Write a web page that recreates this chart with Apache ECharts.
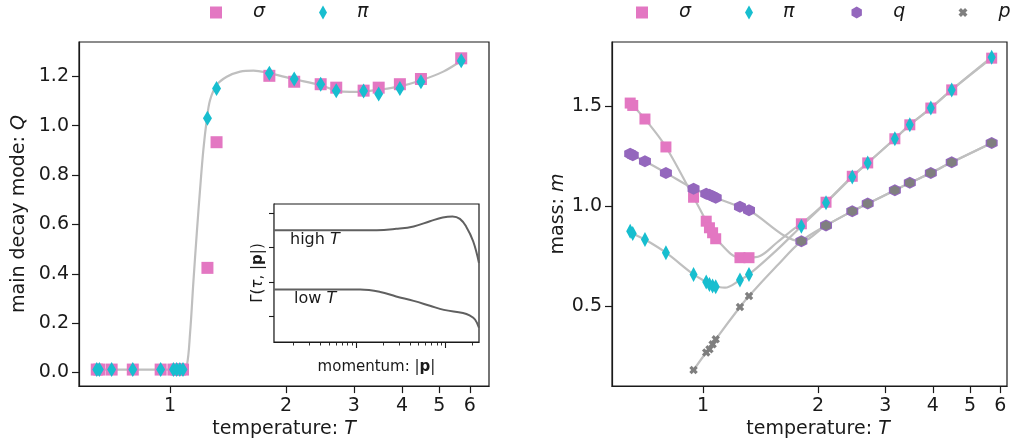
<!DOCTYPE html>
<html>
<head>
<meta charset="utf-8">
<script src="https://cdn.jsdelivr.net/npm/echarts@6/dist/echarts.min.js"></script>
<style>html,body{margin:0;padding:0;background:#fff}#c{width:1016px;height:444px}</style>
</head>
<body>
<div id="c"></div>
<script>
// ---------- data ----------
const temps = [0.645,0.655,0.705,0.80,0.945,1.02,1.04,1.06,1.08,1.25,1.32,1.81,2.10,2.46,2.70,3.18,3.48,3.95,4.48,5.70];
const tickTemps = [1,2,3,4,5,6];
const qTicks = [0,0.2,0.4,0.6,0.8,1.0,1.2];
const mTicks = [0.5,1.0,1.5];

// left panel: main decay mode Q
const qSigma = [0.012,0.012,0.012,0.012,0.012,0.012,0.012,0.012,0.012,0.424,0.933,1.202,1.178,1.168,1.154,1.142,1.154,1.168,1.189,1.273];
const qPi    = [0.012,0.012,0.012,0.012,0.012,0.012,0.012,0.012,0.012,1.030,1.151,1.212,1.189,1.168,1.142,1.141,1.128,1.151,1.178,1.263];
const qCurveT = [0.645,0.80,1.0,1.08,1.105,1.127,1.149,1.173,1.196,1.22,1.245,1.27,1.322,1.403,1.52,1.646,1.783,2.09,2.45,2.71,2.93,3.16,3.46,3.92,4.45,5.12,5.70];
const qCurve  = [0.012,0.012,0.012,0.013,0.027,0.162,0.364,0.566,0.741,0.903,1.023,1.104,1.165,1.198,1.219,1.223,1.215,1.189,1.165,1.142,1.137,1.138,1.145,1.158,1.182,1.219,1.263];

// right panel: mass m
const mSigma = [1.517,1.505,1.437,1.297,1.045,0.925,0.892,0.867,0.837,0.742,0.742,0.912,1.020,1.150,1.217,1.338,1.408,1.492,1.583,1.742];
const mPi    = [0.875,0.863,0.833,0.767,0.658,0.620,0.608,0.600,0.597,0.630,0.658,0.900,1.017,1.147,1.217,1.338,1.408,1.492,1.583,1.747];
const mQ     = [1.263,1.255,1.225,1.167,1.088,1.063,1.057,1.050,1.042,0.997,0.980,0.825,0.903,0.975,1.013,1.080,1.117,1.167,1.220,1.317];
const mP     = [null,null,null,null,0.179,0.267,0.283,0.308,0.333,0.495,0.550,0.825,0.903,0.975,1.013,1.080,1.117,1.167,1.220,1.317];

// fitted curves (right panel)
const sigCurveT = [0.645,0.655,0.705,0.80,0.945,1.02,1.04,1.06,1.08,1.25,1.32,1.41,1.56,1.72,1.81,2.10,2.46,2.70,3.18,3.48,3.95,4.48,5.70];
const sigCurve  = [1.517,1.505,1.437,1.297,1.045,0.925,0.892,0.867,0.837,0.742,0.742,0.750,0.817,0.883,0.912,1.020,1.150,1.217,1.338,1.408,1.492,1.583,1.742];
const piCurveT  = [0.645,0.655,0.705,0.80,0.945,1.02,1.04,1.06,1.08,1.142,1.25,1.32,1.56,1.81,2.10,2.46,2.70,3.18,3.48,3.95,4.48,5.70];
const piCurve   = [0.875,0.863,0.833,0.767,0.658,0.620,0.608,0.600,0.597,0.592,0.630,0.658,0.780,0.900,1.017,1.147,1.217,1.338,1.408,1.492,1.583,1.747];
const pCurveT   = [0.945,1.02,1.04,1.06,1.08,1.25,1.32,1.56,1.81,2.10,2.46,2.70,3.18,3.48,3.95,4.48,5.70];
const pCurve    = [0.179,0.267,0.283,0.308,0.333,0.495,0.550,0.700,0.825,0.903,0.975,1.013,1.080,1.117,1.167,1.220,1.317];

// inset: Gamma(tau,|p|) vs momentum
const insetHighP = [0.12,1.7,2.8,4.4,6.7,9.3,12,14.5,17,20.4,23.7];
const insetHigh  = [3.50,3.50,3.54,3.61,3.76,3.87,3.90,3.83,3.61,3.18,2.55];
const insetLowP  = [0.12,1.11,1.86,2.8,4.4,6.7,9.6,15.7,18.6,21.4,23.7];
const insetLow   = [1.777,1.777,1.71,1.58,1.45,1.31,1.19,1.10,1.03,0.91,0.67];
const insetYTicks = [1,2,3,4];
const insetMajor = [1,10];
const insetMinor = [0.2,0.3,0.4,0.5,0.6,0.7,0.8,0.9,2,3,4,5,6,7,8,9,20];

// ---------- styling ----------
const C = {sigma:'#e377c2', pi:'#17becf', q:'#9467bd', p:'#7f7f7f', curve:'#bfbfbf', inset:'#606060', ink:'#1a1a1a'};
const FF = 'DejaVu Sans';
const FS = 19;
const HEX = 'path://M0,-1L0.866,-0.5L0.866,0.5L0,1L-0.866,0.5L-0.866,-0.5Z';
const XMK = 'path://M-1,-0.45L-0.45,-1L0,-0.55L0.45,-1L1,-0.45L0.55,0L1,0.45L0.45,1L0,0.55L-0.45,1L-1,0.45L-0.55,0Z';
const L = Math.log10;

const pts = (xs, ys) => xs.map((t,i) => ys[i] == null ? null : [L(t), ys[i]]).filter(d => d);

const tickStyle = {show:true, inside:false, length:7, lineStyle:{color:C.ink, width:1.2}};
const lineAx = {show:true, onZero:false, lineStyle:{color:C.ink, width:1.2}};

function xMain(grid, min, max, padLeft) {
  return {
    type:'value', gridIndex:grid, min:min, max:max, position:'bottom',
    axisLine: lineAx,
    axisTick: Object.assign({}, tickStyle, {customValues: tickTemps.map(L)}),
    axisLabel: {customValues: tickTemps.map(L), formatter: v => String(Math.round(Math.pow(10, v))),
                fontSize: FS, color: C.ink, fontFamily: FF, margin: 10},
    splitLine: {show:false},
    name: '{n|temperature: }{i|T}', nameLocation:'middle', nameGap: 33,
    nameTextStyle: {padding:[0,0,0,padLeft||0], rich:{n:{fontSize:FS, fontFamily:FF, color:C.ink}, i:{fontSize:FS, fontFamily:FF, fontStyle:'italic', color:C.ink}}}
  };
}
function yMain(grid, min, max, ticks, nm, it, gap) {
  return {
    type:'value', gridIndex:grid, min:min, max:max,
    axisLine: lineAx,
    axisTick: Object.assign({}, tickStyle, {customValues: ticks}),
    axisLabel: {customValues: ticks, formatter: v => v.toFixed(1), fontSize: FS, color: C.ink, fontFamily: FF, margin: 10},
    splitLine: {show:false},
    name: '{n|' + nm + '}{i|' + it + '}', nameLocation:'middle', nameGap: gap,
    nameTextStyle: {rich:{n:{fontSize:FS, fontFamily:FF, color:C.ink}, i:{fontSize:FS, fontFamily:FF, fontStyle:'italic', color:C.ink}}}
  };
}

function legendItem(name, icon, w, h, left, pad) {
  return {
    data:[{name:name, icon:icon}], left:left, top:3, padding:0,
    itemWidth:w, itemHeight:h, selectedMode:false,
    textStyle:{fontSize:FS, fontFamily:FF, fontStyle:'italic', color:C.ink, padding:[0,0,0,pad]}
  };
}

const curveSeries = (x, y, data) => ({
  type:'line', xAxisIndex:x, yAxisIndex:y, data:data, smooth:0.35, symbol:'none',
  lineStyle:{color:C.curve, width:2.2}, silent:true, z:1
});

const option = {
  animation:false,
  textStyle:{fontFamily:FF},
  grid:[
    {left:79, right:527, top:42, bottom:57, show:true, borderColor:C.ink, borderWidth:1.2, backgroundColor:'transparent'},
    {left:612, right:9, top:42, bottom:57, show:true, borderColor:C.ink, borderWidth:1.2, backgroundColor:'transparent'},
    {left:274, right:537, top:204, bottom:102, show:true, borderColor:C.ink, borderWidth:1.2, backgroundColor:'#fff', z:5}
  ],
  legend:[
    legendItem('σ', 'rect', 12, 12, 210, 26),
    legendItem('π', 'diamond', 8, 14, 319, 25),
    legendItem('σ', 'rect', 12, 12, 636, 26),
    legendItem('π', 'diamond', 8, 14, 745, 25),
    legendItem('q', HEX, 11, 12, 851.5, 26),
    legendItem('p', XMK, 9, 9, 958.5, 26)
  ],
  xAxis:[
    xMain(0, L(0.58), 0.828, 0),
    xMain(1, L(0.578), 0.796, 17),
    {type:'value', gridIndex:2, min:-0.92, max:1.375, position:'bottom', offset:0,
     axisLine:{show:true, onZero:false, lineStyle:{color:C.ink, width:1.2}},
     axisTick:{show:true, length:6, customValues: insetMajor.map(L), lineStyle:{color:C.ink, width:1.1}},
     axisLabel:{show:false}, splitLine:{show:false},
     name:'{n|momentum: |}{b|p}{n||}', nameLocation:'middle', nameGap:18,
     nameTextStyle:{rich:{n:{fontSize:15, fontFamily:FF, color:C.ink}, b:{fontSize:15, fontFamily:FF, fontWeight:'bold', color:C.ink}}}},
    {type:'value', gridIndex:2, min:-0.92, max:1.375, position:'bottom', offset:0,
     axisLine:{show:false},
     axisTick:{show:true, length:3.5, customValues: insetMinor.map(L), lineStyle:{color:C.ink, width:0.9}},
     axisLabel:{show:false}, splitLine:{show:false}}
  ],
  yAxis:[
    yMain(0, -0.055, 1.339, qTicks, 'main decay mode: ', 'Q', 50),
    yMain(1, 0.0985, 1.823, mTicks, 'mass: ', 'm', 44),
    {type:'value', gridIndex:2, min:0.258, max:4.26,
     axisLine:{show:true, onZero:false, lineStyle:{color:C.ink, width:1.2}},
     axisTick:{show:true, length:5, customValues: insetYTicks, lineStyle:{color:C.ink, width:1.1}},
     axisLabel:{show:false}, splitLine:{show:false},
     name:'{n|Γ(}{i|τ}{n|, |}{b|p}{n||)}', nameLocation:'middle', nameGap:8,
     nameTextStyle:{rich:{n:{fontSize:15, fontFamily:FF, color:C.ink}, i:{fontSize:15, fontFamily:FF, fontStyle:'italic', color:C.ink}, b:{fontSize:15, fontFamily:FF, fontWeight:'bold', color:C.ink}}}}
  ],
  graphic:[
    {type:'text', left:290, top:232, z:100, style:{text:'{n|high }{i|T}', rich:{n:{fontSize:16, fontFamily:FF, fill:C.ink}, i:{fontSize:16, fontFamily:FF, fontStyle:'italic', fill:C.ink}}}},
    {type:'text', left:294, top:291, z:100, style:{text:'{n|low }{i|T}', rich:{n:{fontSize:16, fontFamily:FF, fill:C.ink}, i:{fontSize:16, fontFamily:FF, fontStyle:'italic', fill:C.ink}}}}
  ],
  series:[
    // left panel
    curveSeries(0, 0, pts(qCurveT, qCurve)),
    {type:'scatter', name:'σ', xAxisIndex:0, yAxisIndex:0, data:pts(temps, qSigma), symbol:'rect', symbolSize:12, itemStyle:{color:C.sigma, opacity:1}, z:3},
    {type:'scatter', name:'π', xAxisIndex:0, yAxisIndex:0, data:pts(temps, qPi), symbol:'diamond', symbolSize:[9,15], itemStyle:{color:C.pi, opacity:1}, z:4},
    // right panel curves
    curveSeries(1, 1, pts(sigCurveT, sigCurve)),
    curveSeries(1, 1, pts(piCurveT, piCurve)),
    curveSeries(1, 1, pts(temps, mQ)),
    curveSeries(1, 1, pts(pCurveT, pCurve)),
    {type:'scatter', name:'σ', xAxisIndex:1, yAxisIndex:1, data:pts(temps, mSigma), symbol:'rect', symbolSize:11, itemStyle:{color:C.sigma, opacity:1}, z:3},
    {type:'scatter', name:'π', xAxisIndex:1, yAxisIndex:1, data:pts(temps, mPi), symbol:'diamond', symbolSize:[8,15], itemStyle:{color:C.pi, opacity:1}, z:4},
    {type:'scatter', name:'q', xAxisIndex:1, yAxisIndex:1, data:pts(temps, mQ), symbol:HEX, symbolSize:12, itemStyle:{color:C.q, opacity:1}, z:5},
    {type:'scatter', name:'p', xAxisIndex:1, yAxisIndex:1, data:pts(temps, mP),
     symbol: v => v[0] > L(1.5) ? HEX : XMK,
     symbolSize: v => v[0] > L(1.5) ? 9.5 : 8.5,
     itemStyle:{color:C.p, opacity:1}, z:6},
    // inset
    {type:'line', xAxisIndex:2, yAxisIndex:2, data:pts(insetHighP, insetHigh), smooth:0.4, symbol:'none', lineStyle:{color:C.inset, width:2}, z:10, silent:true},
    {type:'line', xAxisIndex:2, yAxisIndex:2, data:pts(insetLowP, insetLow), smooth:0.4, symbol:'none', lineStyle:{color:C.inset, width:2}, z:10, silent:true}
  ]
};

const chart = echarts.init(document.getElementById('c'), null, {renderer:'canvas'});
chart.setOption(option);
</script>
</body>
</html>
